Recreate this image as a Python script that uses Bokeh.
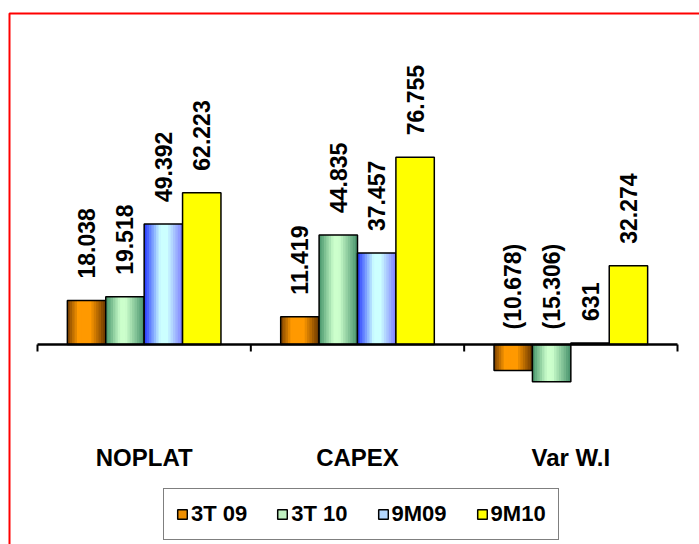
import math
from bokeh.plotting import figure
from bokeh.models import Range1d, ColumnDataSource, Legend, LegendItem
from bokeh.core.properties import value
from bokeh.embed import file_html
from bokeh.resources import INLINE

# ---------------- data ----------------
categories = ["NOPLAT", "CAPEX", "Var W.I"]
series_names = ["3T 09", "3T 10", "9M09", "9M10"]
s_3t09 = [18038, 11419, -10678]
s_3t10 = [19518, 44835, -15306]
s_9m09 = [49392, 37457, 631]
s_9m10 = [62223, 76755, 32274]
series_values = [s_3t09, s_3t10, s_9m09, s_9m10]

# ---------------- styles ----------------
FONT = "Liberation Sans"
gradients = [
    [(0.0, "#7a4000"), (0.28, "#ff9900"), (0.6, "#ff9900"), (1.0, "#663500")],
    [(0.0, "#45946a"), (0.38, "#ccffcc"), (0.52, "#ccffcc"), (1.0, "#45906a")],
    [(0.0, "#2436ff"), (0.42, "#ccffff"), (0.6, "#ccffff"), (1.0, "#7c7cff")],
    [(0.0, "#ffff00"), (1.0, "#ffff00")],
]
swatch_colors = ["#ef8f00", "#bff0c0", "#b4d8ff", "#ffff00"]
N_STRIPS = 16
BAR_W = 0.18

W, H = 699, 544
X0, X1 = -0.1734, 3.1031
Y0, Y1 = -81.97, 140.98


def hex2rgb(h):
    h = h.lstrip("#")
    return tuple(int(h[i:i + 2], 16) for i in (0, 2, 4))


def grad_color(stops, t):
    for (p0, c0), (p1, c1) in zip(stops[:-1], stops[1:]):
        if p0 <= t <= p1:
            f = 0 if p1 == p0 else (t - p0) / (p1 - p0)
            a, b = hex2rgb(c0), hex2rgb(c1)
            return "#%02x%02x%02x" % tuple(round(a[i] + (b[i] - a[i]) * f) for i in range(3))
    return stops[-1][1]


def fmt(v):
    s = f"{abs(v):,}".replace(",", ".")
    return f"({s})" if v < 0 else s


p = figure(width=W, height=H, x_range=Range1d(X0, X1), y_range=Range1d(Y0, Y1),
           x_axis_type=None, y_axis_type=None, output_backend="svg",
           toolbar_location=None, min_border=0, outline_line_color=None,
           background_fill_color="white", border_fill_color="white")

n = len(series_names)
legend_items = []
for j, (name, vals) in enumerate(zip(series_names, series_values)):
    centers = [i + 0.5 + (j - (n - 1) / 2) * BAR_W for i in range(len(categories))]
    v = [x / 1000 for x in vals]
    tops = [max(a, 0) for a in v]
    bots = [min(a, 0) for a in v]
    src = ColumnDataSource(dict(left=[c - BAR_W / 2 for c in centers],
                                right=[c + BAR_W / 2 for c in centers],
                                top=tops, bottom=bots))
    base = p.quad(left="left", right="right", top="top", bottom="bottom", source=src,
                  fill_color=swatch_colors[j], line_color=None)
    stops = gradients[j]
    if len(set(c for _, c in stops)) > 1:
        dw = BAR_W / N_STRIPS
        L, R, T, B, C = [], [], [], [], []
        for c, t, b in zip(centers, tops, bots):
            x0 = c - BAR_W / 2
            for k in range(N_STRIPS):
                L.append(x0 + k * dw)
                R.append(x0 + (k + 1) * dw + (dw * 0.4 if k < N_STRIPS - 1 else 0))
                T.append(t)
                B.append(b)
                C.append(grad_color(stops, (k + 0.5) / N_STRIPS))
        p.quad(left=L, right=R, top=T, bottom=B, fill_color=C, line_color=None)
    outline = p.quad(left="left", right="right", top="top", bottom="bottom", source=src,
                     fill_color=None, line_color="black", line_width=1.5)
    legend_items.append(LegendItem(label=name, renderers=[base, outline]))

    lab = ColumnDataSource(dict(x=centers, y=tops, text=[fmt(a) for a in vals],
                                off=[-22 if a >= 0 else -15 for a in vals]))
    p.text(x="x", y="y", text="text", source=lab, angle=math.pi / 2,
           y_offset="off", text_align="left", text_baseline="middle",
           text_font=value(FONT), text_font_style="bold", text_font_size="23px",
           text_color="black")

# category axis line at zero with ticks at category boundaries
bounds = list(range(len(categories) + 1))
p.segment(x0=[bounds[0]], x1=[bounds[-1]], y0=[0], y1=[0], line_color="black", line_width=2.5)
p.ray(x=bounds, y=[0] * len(bounds), length=7, length_units="screen",
      angle=-math.pi / 2, line_color="black", line_width=2)

# category labels
p.text(x=[i + 0.5 for i in range(len(categories))], y=[0] * len(categories), text=categories,
       y_offset=113, text_align="center", text_baseline="middle",
       text_font=value(FONT), text_font_style="bold", text_font_size="24px", text_color="black")

# red chart-area border (left and top visible)
px_x = (X1 - X0) / W
px_y = (Y1 - Y0) / H
xl = X0 + 9.0 * px_x
yt = Y1 - 13.0 * px_y
p.line(x=[xl, xl, X1 + 1], y=[Y0 - 10, yt, yt], line_color="red", line_width=2)

legend = Legend(items=legend_items, orientation="horizontal", location=(163, 4),
                padding=12, spacing=29, label_standoff=3, glyph_width=12, glyph_height=12,
                label_text_font=FONT, label_text_font_style="bold", label_text_font_size="22px",
                label_text_color="black",
                border_line_color="black", border_line_width=1.5,
                background_fill_color="white", background_fill_alpha=1.0, margin=0)
p.add_layout(legend)

open("out.html", "w").write(file_html(p, INLINE))
